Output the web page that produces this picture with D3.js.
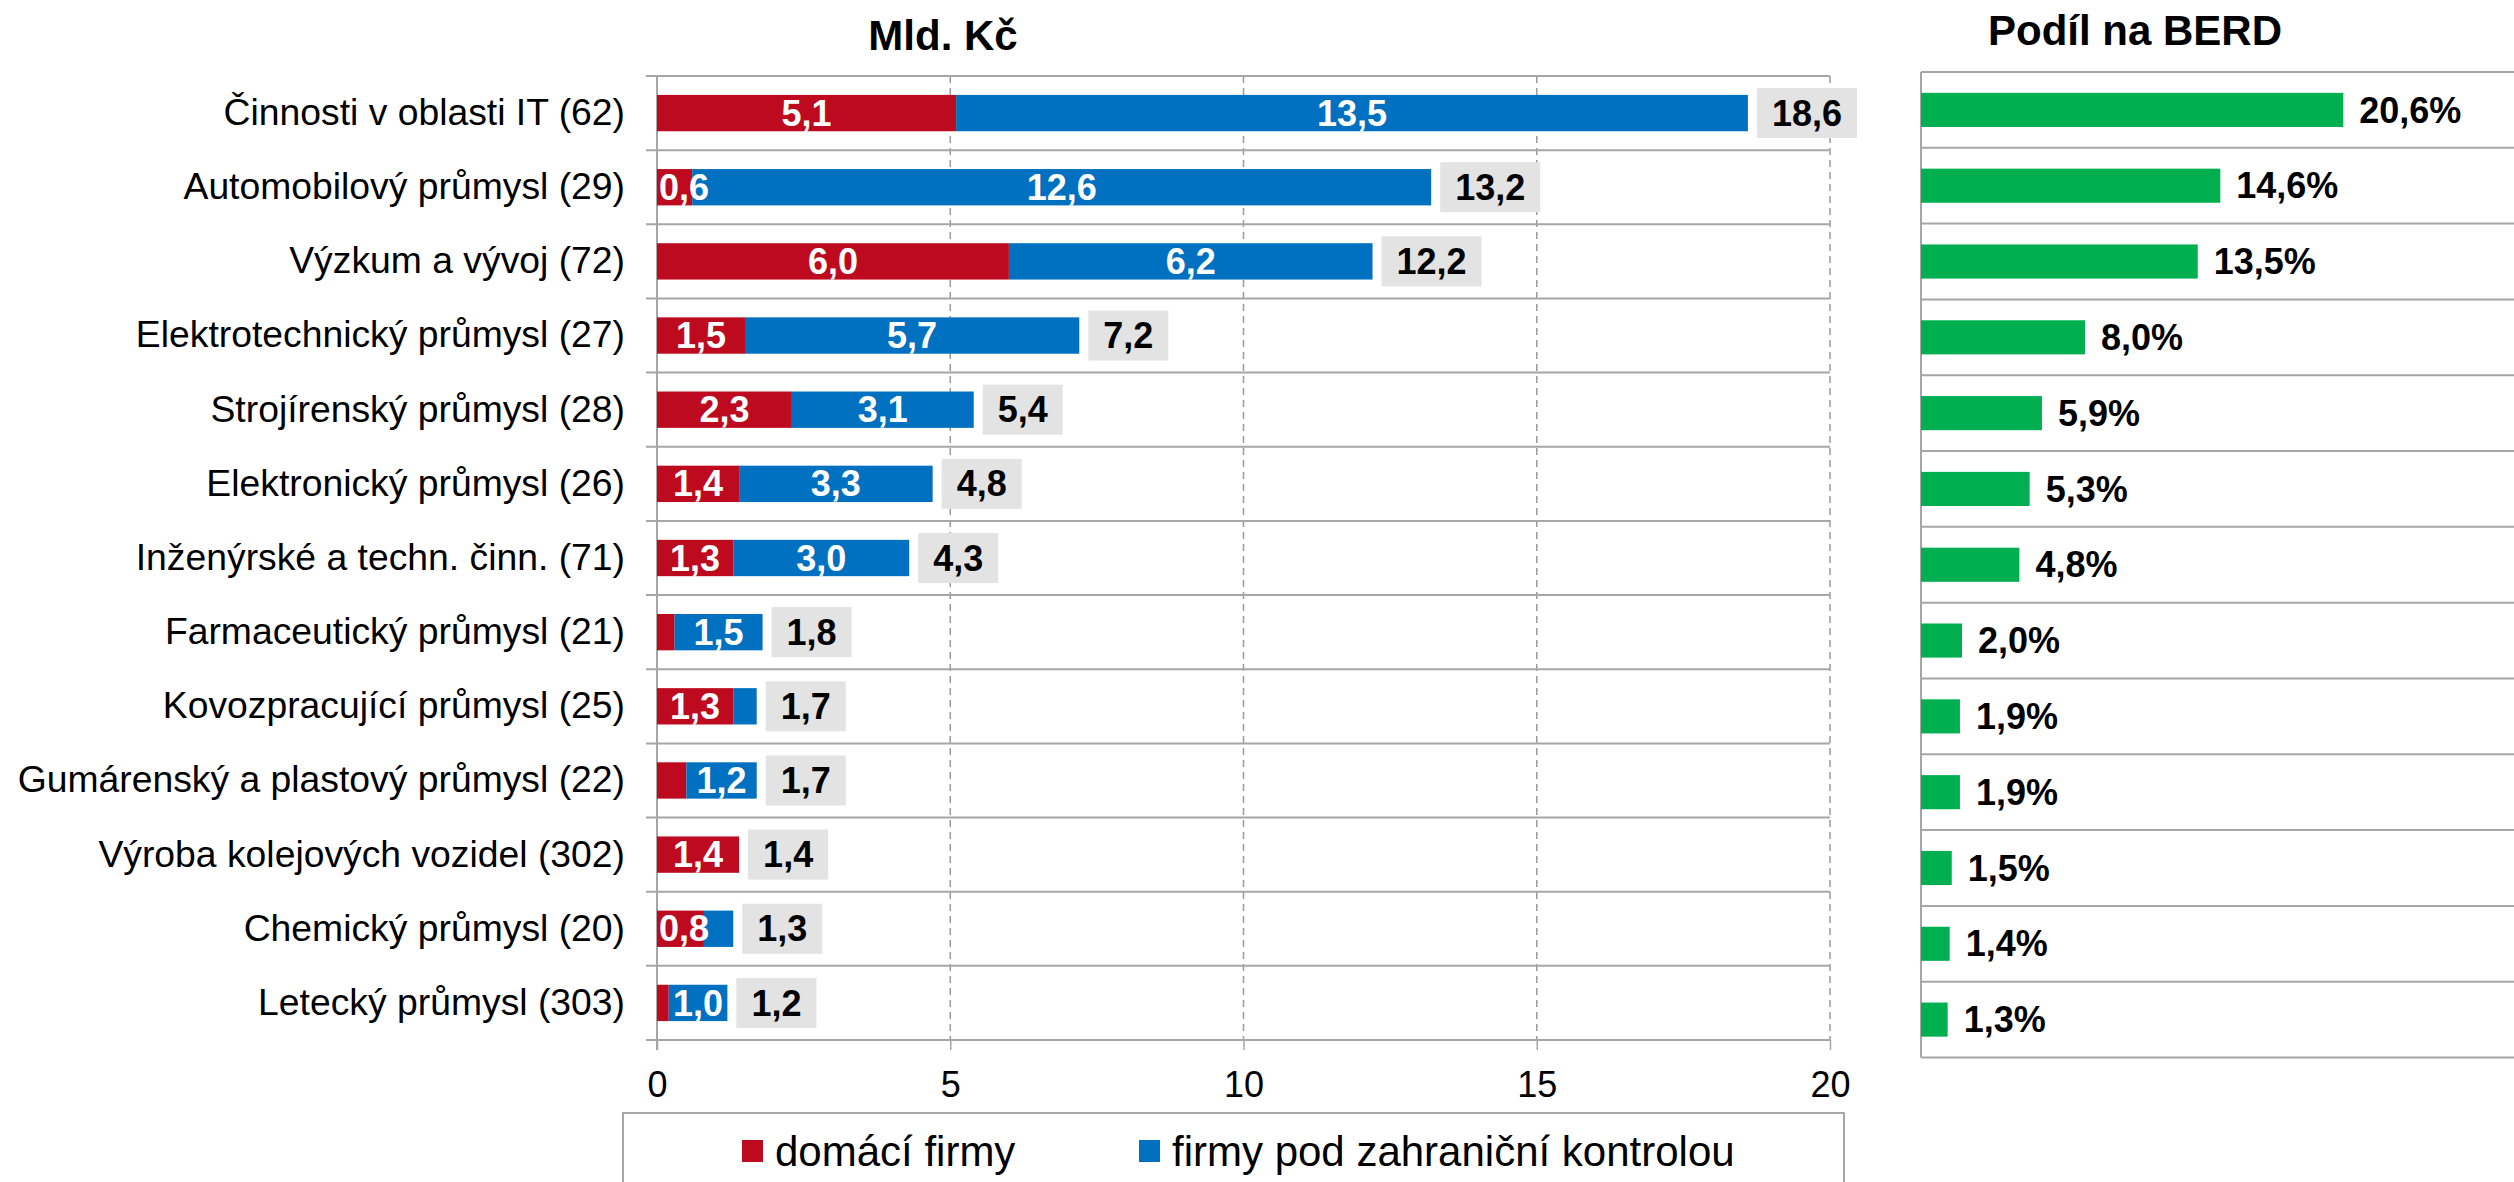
<!DOCTYPE html>
<html>
<head>
<meta charset="utf-8">
<script src="https://cdn.jsdelivr.net/npm/d3@7"></script>
<style>
  body { margin: 0; background: #fff; }
  svg { display: block; font-family: "Liberation Sans", Arial, sans-serif; }
</style>
</head>
<body>
<div class="chart"></div>
<script>
// data
const categories = [
  "Činnosti v oblasti IT (62)",
  "Automobilový průmysl (29)",
  "Výzkum a vývoj (72)",
  "Elektrotechnický průmysl (27)",
  "Strojírenský průmysl (28)",
  "Elektronický průmysl (26)",
  "Inženýrské a techn. činn. (71)",
  "Farmaceutický průmysl (21)",
  "Kovozpracující průmysl (25)",
  "Gumárenský a plastový průmysl (22)",
  "Výroba kolejových vozidel (302)",
  "Chemický průmysl (20)",
  "Letecký průmysl (303)"
]
const domaci = [5.1, 0.6, 6.0, 1.5, 2.3, 1.4, 1.3, 0.3, 1.3, 0.5, 1.4, 0.8, 0.2]
const zahranicni = [13.5, 12.6, 6.2, 5.7, 3.1, 3.3, 3.0, 1.5, 0.4, 1.2, 0.0, 0.5, 1.0]
const celkem = [18.6, 13.2, 12.2, 7.2, 5.4, 4.8, 4.3, 1.8, 1.7, 1.7, 1.4, 1.3, 1.2]
const podilBerd = [20.6, 14.6, 13.5, 8.0, 5.9, 5.3, 4.8, 2.0, 1.9, 1.9, 1.5, 1.4, 1.3]
const xTicks = [0, 5, 10, 15, 20]
const seriesNames = ["domácí firmy", "firmy pod zahraniční kontrolou"]

const width = 2514
const height = 1182
const red = "#be0a1e", blue = "#0070c0", green = "#00b050"
const lineGray = "#a6a6a6"

const fmt = v => d3.format(".1f")(v).replace(".", ",")

const svg = d3.select(".chart")
  .append("svg")
  .attr("width", width)
  .attr("height", height)

// ---------- left panel: Mld. Kč ----------
const x = d3.scaleLinear().domain([0, 20]).range([657, 1830])
const y = d3.scaleBand().domain(categories).range([76, 1040])
  .paddingInner(0.51).paddingOuter(0.255)
const step = y.step()

svg.append("text")
  .attr("x", 943).attr("y", 50)
  .attr("text-anchor", "middle")
  .attr("font-size", 42).attr("font-weight", "bold")
  .text("Mld. Kč")

// dashed vertical gridlines
svg.append("g")
  .selectAll("line")
  .data(xTicks.slice(1))
  .join("line")
  .attr("x1", d => x(d)).attr("x2", d => x(d))
  .attr("y1", 76).attr("y2", 1040)
  .attr("stroke", "#9a9a9a")
  .attr("stroke-width", 1.5)
  .attr("stroke-dasharray", "7,5")

// row separators
svg.append("g")
  .selectAll("line")
  .data(d3.range(categories.length + 1))
  .join("line")
  .attr("x1", 646).attr("x2", x(20))
  .attr("y1", i => y.range()[0] + i * step)
  .attr("y2", i => y.range()[0] + i * step)
  .attr("stroke", lineGray)
  .attr("stroke-width", 2)

// bottom axis
const xAxis = svg.append("g")
  .attr("transform", "translate(0,1040)")
  .call(d3.axisBottom(x).tickValues(xTicks).tickSize(10).tickPadding(21).tickFormat(d3.format("d")))
xAxis.select(".domain").remove()
xAxis.selectAll(".tick line").attr("stroke", lineGray).attr("stroke-width", 1.5)
xAxis.selectAll(".tick text").attr("font-size", 36).attr("fill", "#000")
  .attr("font-family", "Liberation Sans, Arial, sans-serif")

// category axis
const yAxis = svg.append("g")
  .attr("transform", "translate(657,0)")
  .call(d3.axisLeft(y).tickSize(0).tickPadding(32))
yAxis.select(".domain").remove()
yAxis.selectAll(".tick text").attr("font-size", 37.3).attr("fill", "#000")
  .attr("font-family", "Liberation Sans, Arial, sans-serif")

svg.append("line")
  .attr("x1", x(0)).attr("x2", x(0))
  .attr("y1", 76).attr("y2", 1050)
  .attr("stroke", lineGray).attr("stroke-width", 2)

// stacked bars
const rows = categories.map((c, i) => ({ c, d: domaci[i], f: zahranicni[i], t: celkem[i] }))

const seg = svg.append("g")
rows.forEach(r => {
  seg.append("rect")
    .attr("x", x(0)).attr("y", y(r.c))
    .attr("width", x(r.d) - x(0)).attr("height", y.bandwidth())
    .attr("fill", red)
  seg.append("rect")
    .attr("x", x(r.d)).attr("y", y(r.c))
    .attr("width", x(r.d + r.f) - x(r.d)).attr("height", y.bandwidth())
    .attr("fill", blue)
})

// segment labels
const segLabels = svg.append("g")
  .attr("font-size", 36).attr("font-weight", "bold").attr("fill", "#fff")
  .attr("text-anchor", "middle")
rows.forEach(r => {
  const cy = y(r.c) + y.bandwidth() / 2
  if (r.d >= 0.6) {
    const t = segLabels.append("text").attr("y", cy).attr("dy", "0.35em").text(fmt(r.d))
    const w = t.node().getComputedTextLength()
    t.attr("x", Math.max((x(0) + x(r.d)) / 2, x(0) + w / 2 + 2))
  }
  if (r.f >= 0.6) {
    segLabels.append("text")
      .attr("x", (x(r.d) + x(r.d + r.f)) / 2)
      .attr("y", cy).attr("dy", "0.35em")
      .text(fmt(r.f))
  }
})

// total labels in grey boxes
const totals = svg.append("g")
rows.forEach(r => {
  const cy = y(r.c) + y.bandwidth() / 2
  const x0 = x(r.d + r.f) + 9
  const box = totals.append("rect").attr("fill", "#e3e3e3")
  const t = totals.append("text")
    .attr("y", cy).attr("dy", "0.35em")
    .attr("font-size", 36).attr("font-weight", "bold")
    .attr("text-anchor", "middle")
    .text(fmt(r.t))
  const w = t.node().getComputedTextLength() + 30
  t.attr("x", x0 + w / 2)
  box.attr("x", x0).attr("y", cy - 25).attr("width", w).attr("height", 50)
})

// legend
const legend = svg.append("g")
legend.append("rect")
  .attr("x", 623).attr("y", 1113).attr("width", 1221).attr("height", 120)
  .attr("fill", "none").attr("stroke", lineGray).attr("stroke-width", 2)
const legendX = [742, 1139]
const legendColors = [red, blue]
seriesNames.forEach((name, i) => {
  legend.append("rect")
    .attr("x", legendX[i]).attr("y", 1140).attr("width", 21).attr("height", 22)
    .attr("fill", legendColors[i])
  legend.append("text")
    .attr("x", legendX[i] + 33).attr("y", 1151).attr("dy", "0.35em")
    .attr("font-size", 42)
    .text(name)
})

// ---------- right panel: Podíl na BERD ----------
const x2 = d3.scaleLinear().domain([0, 30]).range([1921, 1921 + 30 * 20.5])
const y2 = d3.scaleBand().domain(categories).range([72, 1057.5])
  .paddingInner(0.55).paddingOuter(0.275)
const step2 = y2.step()

svg.append("text")
  .attr("x", 2135).attr("y", 45)
  .attr("text-anchor", "middle")
  .attr("font-size", 42).attr("font-weight", "bold")
  .text("Podíl na BERD")

svg.append("g")
  .selectAll("line")
  .data(d3.range(categories.length + 1))
  .join("line")
  .attr("x1", 1921).attr("x2", width)
  .attr("y1", i => y2.range()[0] + i * step2)
  .attr("y2", i => y2.range()[0] + i * step2)
  .attr("stroke", lineGray)
  .attr("stroke-width", 2)

svg.append("line")
  .attr("x1", 1921).attr("x2", 1921)
  .attr("y1", 72).attr("y2", 1057.5)
  .attr("stroke", lineGray).attr("stroke-width", 2)

svg.append("g")
  .selectAll("rect")
  .data(podilBerd)
  .join("rect")
  .attr("x", x2(0))
  .attr("y", (d, i) => y2(categories[i]))
  .attr("width", d => x2(d) - x2(0))
  .attr("height", y2.bandwidth())
  .attr("fill", green)

svg.append("g")
  .selectAll("text")
  .data(podilBerd)
  .join("text")
  .attr("x", d => x2(d) + 16)
  .attr("y", (d, i) => y2(categories[i]) + y2.bandwidth() / 2)
  .attr("dy", "0.35em")
  .attr("font-size", 36).attr("font-weight", "bold")
  .text(d => fmt(d) + "%")
</script>
</body>
</html>
